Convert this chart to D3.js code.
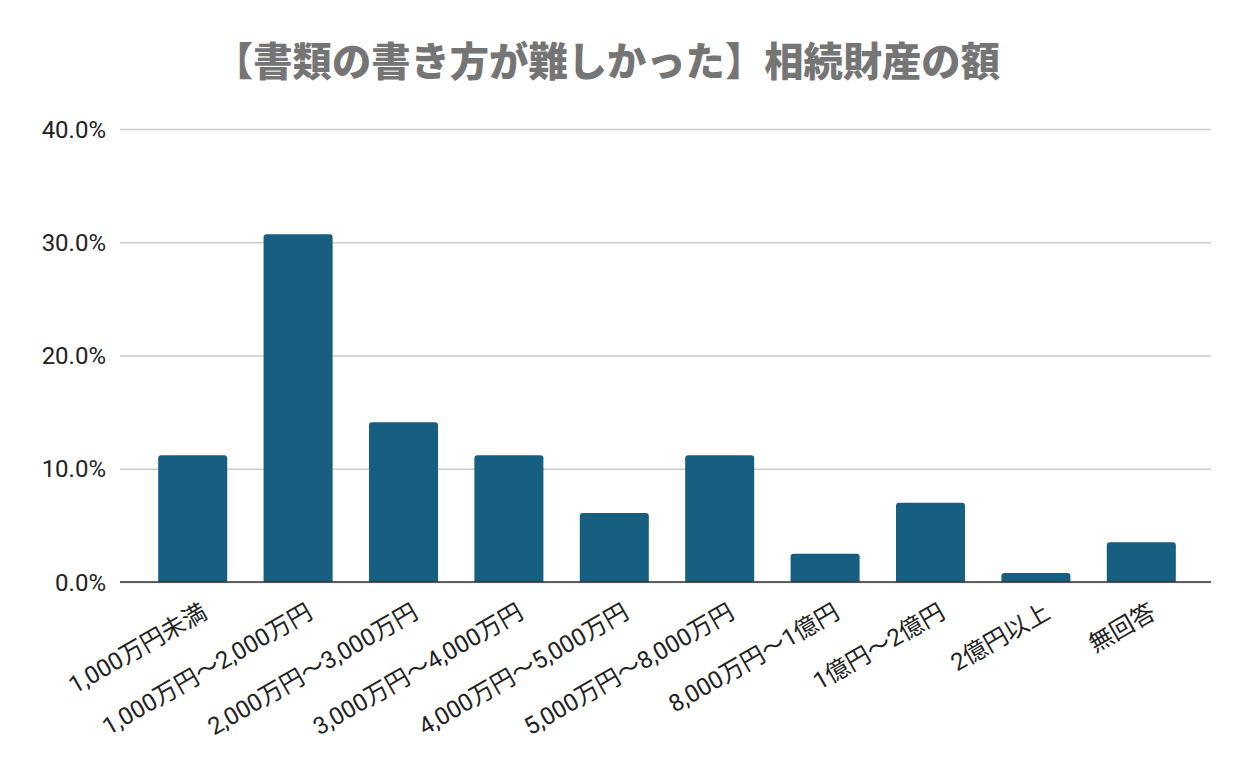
<!DOCTYPE html>
<html><head><meta charset="utf-8">
<script src="https://cdn.jsdelivr.net/npm/d3@7"></script>
<style>
body{margin:0;background:#fff;}
text{font-family:Roboto,"Noto Sans CJK JP",sans-serif;}
</style></head>
<body><svg id="c" width="1250" height="773"></svg>
<script>
const categories = ["1,000万円未満","1,000万円～2,000万円","2,000万円～3,000万円","3,000万円～4,000万円","4,000万円～5,000万円","5,000万円～8,000万円","8,000万円～1億円","1億円～2億円","2億円以上","無回答"];
const values = [11.2, 30.7, 14.1, 11.2, 6.1, 11.2, 2.5, 7.0, 0.8, 3.5];
const yTicks = [0, 10, 20, 30, 40];
const title = "【書類の書き方が難しかった】相続財産の額";

const svg = d3.select("#c");
svg.append("rect").attr("width",1250).attr("height",773).attr("fill","#fff");

const x = d3.scaleBand().domain(categories).range([140, 1194]).paddingInner(0.345).paddingOuter(0.1725);
const y = d3.scaleLinear().domain([0, 40]).range([582, 129]);

svg.append("text").attr("x", 607).attr("y", 76).attr("text-anchor","middle")
  .style("font-size","39.3px").style("font-weight","900").attr("fill", "#757575")
  .style("font-family", '"Noto Sans CJK JP",sans-serif').text(title);

// grid
const yAxis = d3.axisLeft(y).tickValues(yTicks).tickSize(-(1211-120)).tickFormat(d => d.toFixed(1) + "%");
const gy = svg.append("g").attr("transform","translate(120,0)").attr("font-size",24).call(yAxis);
gy.attr("font-size",24).attr("font-family","Roboto,sans-serif");
gy.select(".domain").remove();
gy.selectAll(".tick line").attr("stroke","#cccccc").attr("stroke-width",1.5);
gy.selectAll(".tick text").attr("x",-14).attr("dy","0.34em").attr("fill","#222");

// bars
const r = 3;
svg.append("g").selectAll("path").data(values).join("path")
  .attr("fill","#175f80")
  .attr("d",(d,i)=>{
    const x0 = x(categories[i]), w = x.bandwidth(), y0 = y(d), y1 = y(0);
    const rr = Math.min(r, (y1-y0));
    return `M${x0},${y1}V${y0+rr}Q${x0},${y0} ${x0+rr},${y0}H${x0+w-rr}Q${x0+w},${y0} ${x0+w},${y0+rr}V${y1}Z`;
  });

// baseline
svg.append("line").attr("x1",120).attr("x2",1211).attr("y1",y(0)).attr("y2",y(0))
  .attr("stroke","#333").attr("stroke-width",1.5);

// x labels
const xAxis = d3.axisBottom(x).tickSize(0);
const gx = svg.append("g").attr("transform",`translate(0,${y(0)})`).call(xAxis);
gx.attr("font-size",24).attr("font-family",'Roboto,"Noto Sans CJK JP",sans-serif');
gx.select(".domain").remove();
gx.selectAll(".tick text").attr("fill","#222")
  .attr("text-anchor","end").attr("dy",0).attr("y",0)
  .attr("transform","translate(16,35) rotate(-30)");
</script></body></html>
